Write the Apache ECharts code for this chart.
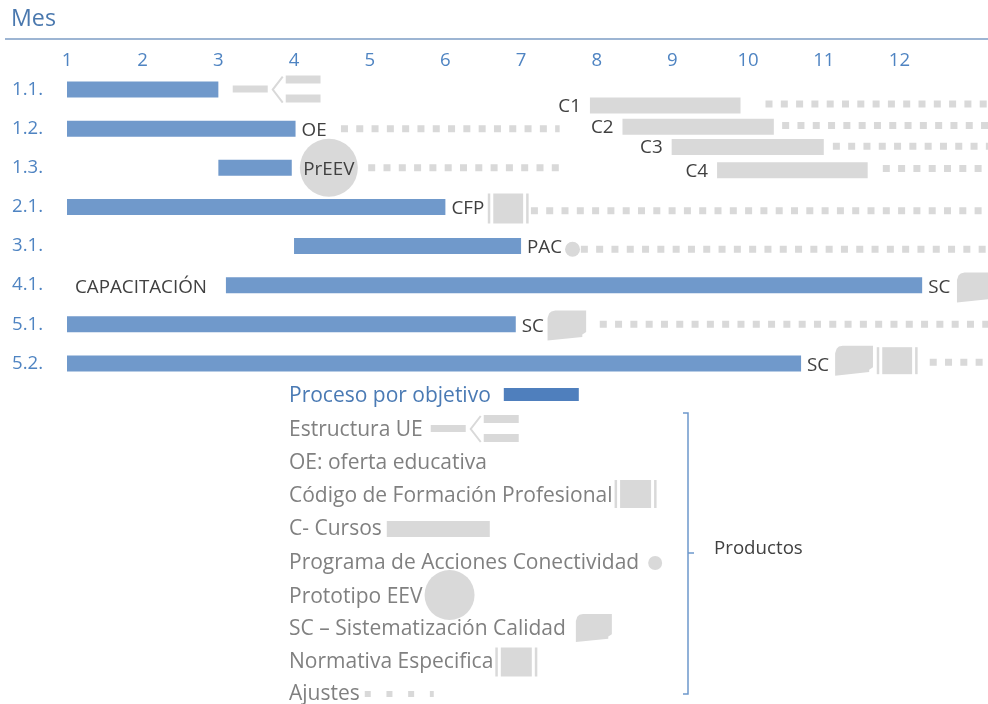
<!DOCTYPE html>
<html>
<head>
<meta charset="utf-8">
<title>Cronograma por objetivo</title>
<script src="https://cdn.jsdelivr.net/npm/echarts@6/dist/echarts.min.js"></script>
<style>
  html, body { margin: 0; padding: 0; background: #ffffff; }
  #chart { width: 988px; height: 704px; }
</style>
</head>
<body>
<div id="chart"></div>
<script>
// ---- Data -------------------------------------------------------------
// Month tick labels on the top axis
const monthLabels = ['1', '2', '3', '4', '5', '6', '7', '8', '9', '10', '11', '12'];

// Objectives (rows) and their process bars, in months
const rows = ['1.1.', '1.2.', '1.3.', '2.1.', '3.1.', '4.1.', '5.1.', '5.2.'];
const barStart = [1, 1, 3, 1, 4, 3.1, 1, 1];
const barEnd = [3, 4.02, 3.97, 6, 7, 12.3, 6.93, 10.7];
const barEndLabels = ['', 'OE', '', 'CFP', 'PAC', 'SC', 'SC', 'SC'];
const barStartLabels = ['', '', '', '', '', 'CAPACITACIÓN', '', ''];

// Products: courses C1..C4
const cursoNames = ['C1', 'C2', 'C3', 'C4'];
const cursoRow = [1.41, 1.95, 2.47, 3.06];
const cursoStart = [7.91, 8.34, 8.99, 9.59];
const cursoEnd = [9.9, 10.34, 11.0, 11.58];

// Products: adjustments (dotted runs)
const ajusteRow = [2, 3, 1.37, 1.92, 2.45, 3.02, 4.1, 5.08, 7.0, 7.97];
const ajusteStart = [4.62, 4.98, 10.23, 10.45, 11.12, 11.78, 7.13, 7.79, 8.04, 12.4];
const ajusteEnd = [7.51, 7.51, 13.3, 13.3, 13.3, 13.3, 13.3, 13.3, 13.3, 13.3];

// Products: Estructura UE
const estructuraRow = [1];
const estructuraStart = [3.19];
const estructuraEnd = [4.35];

// Products: Prototipo EEV
const prototipoRow = [3];
const prototipoAt = [4.46];
const prototipoLabel = ['PrEEV'];

// Products: Código de Formación Profesional
const cfpRow = [4.04];
const cfpStart = [6.56];
const cfpEnd = [7.1];

// Products: Programa de Acciones Conectividad
const pacRow = [5.08];
const pacAt = [7.68];

// Products: SC – Sistematización Calidad
const scRow = [6.06, 7.03, 7.93];
const scStart = [12.76, 7.35, 11.15];
const scEnd = [13.26, 7.86, 11.65];

// Products: Normativa Especifica
const normRow = [7.93];
const normStart = [11.7];
const normEnd = [12.24];

// Legend entries
const legendTitle = 'Proceso por objetivo';
const legendItems = ['Estructura UE', 'OE: oferta educativa', 'Código de Formación Profesional',
  'C- Cursos', 'Programa de Acciones Conectividad', 'Prototipo EEV',
  'SC – Sistematización Calidad', 'Normativa Especifica', 'Ajustes'];
const bracketLabel = 'Productos';

// ---- Styles -----------------------------------------------------------
const FONT_FAMILY = '"Open Sans", "Noto Sans", "Liberation Sans", sans-serif';
const BLUE_TEXT = '#4f84c2';
const BAR_BLUE = '#7099cb';
const LEGEND_BLUE = '#4f7fbd';
const GRAY = '#d9d9d9';
const DARK = '#404040';
const LEGEND_GRAY = '#808080';
const TEXT_DY = 2; // optical baseline nudge for Open Sans

// Text metrics: font sizes are chosen so that key strings keep their set widths
const measureCtx = document.createElement('canvas').getContext('2d');
function textWidth(t, size) {
  measureCtx.font = size + 'px ' + FONT_FAMILY;
  return measureCtx.measureText(t).width;
}
function fitSize(t, width) {
  return Math.round(20 * width / textWidth(t, 20) * 10) / 10;
}
const LSIZE = fitSize('Código de Formación Profesional', 323);
const MARK_SIZE = fitSize('CAPACITACIÓN', 132);
const ROW_SIZE = fitSize('1.1.', 31);
const MONTH_SIZE = ROW_SIZE;
const TITLE_SIZE = fitSize('Mes', 45);
const BRACKET_SIZE = fitSize('Productos', 89);

function txt(x, y, text, size, color, align) {
  return {
    type: 'text', x: x, y: y + TEXT_DY,
    style: {
      text: text, fill: color, font: size + 'px ' + FONT_FAMILY,
      align: align || 'left', verticalAlign: 'middle',
      textAlign: align || 'left', textVerticalAlign: 'middle'
    }
  };
}
function rect(x, y, w, h, fill) {
  return { type: 'rect', shape: { x: x, y: y, width: w, height: h }, style: { fill: fill } };
}

// Symbol shapes shared by chart and legend
function symEstructura(x0, x1, yc) {
  return [
    rect(x0, yc - 4, 35, 7, GRAY),
    { type: 'polyline', shape: { points: [[x0 + 50, yc - 13], [x0 + 40, yc], [x0 + 50, yc + 13]] },
      style: { stroke: GRAY, lineWidth: 2, fill: 'none' } },
    rect(x0 + 53, yc - 14, x1 - x0 - 53, 8, GRAY),
    rect(x0 + 53, yc + 5, x1 - x0 - 53, 8, GRAY)
  ];
}
function symFramed(x0, x1, yc, h) {
  return [
    rect(x0, yc - h / 2, 2.5, h, GRAY),
    rect(x0 + 5.5, yc - h / 2, x1 - x0 - 11, h, GRAY),
    rect(x1 - 2.5, yc - h / 2, 2.5, h, GRAY)
  ];
}
function symSC(x0, x1, yc, h) {
  const w = x1 - x0, y0 = yc - h / 2;
  const pts = [[0, 0.25], [0.04, 0.1], [0.1, 0.03], [0.2, 0], [1, 0], [1, 0.72],
    [0.9, 0.8], [0.9, 0.88], [0, 1]].map(p => [x0 + p[0] * w, y0 + p[1] * h]);
  return [{ type: 'polygon', shape: { points: pts }, style: { fill: GRAY } }];
}
function symDots(x0, x1, yc, size, gap) {
  return [{ type: 'line', shape: { x1: x0, y1: yc, x2: x1, y2: yc },
    style: { stroke: GRAY, lineWidth: size, lineDash: [size, gap], lineCap: 'butt' } }];
}
function symCircle(cx, cy, r) {
  return [{ type: 'circle', shape: { cx: cx, cy: cy, r: r }, style: { fill: GRAY } }];
}

// ---- Series -----------------------------------------------------------
function customSeries(name, data, render, z) {
  return {
    type: 'custom', name: name, xAxisIndex: 0, yAxisIndex: 1, clip: true, z: z || 2,
    data: data, silent: true,
    renderItem: function (params, api) {
      return { type: 'group', children: render(api, params.dataIndex) };
    }
  };
}

const series = [
  customSeries('Ajustes', ajusteRow.map((r, i) => [ajusteStart[i], ajusteEnd[i], r]), function (api) {
    const s = api.coord([api.value(0), api.value(2)]);
    const e = api.coord([api.value(1), api.value(2)]);
    return symDots(s[0], e[0], s[1], 7, 8.3);
  }),
  customSeries('C- Cursos', cursoRow.map((r, i) => [cursoStart[i], cursoEnd[i], r]), function (api, i) {
    const s = api.coord([api.value(0), api.value(2)]);
    const e = api.coord([api.value(1), api.value(2)]);
    return [rect(s[0], s[1] - 8, e[0] - s[0], 16, GRAY), txt(s[0] - 9, s[1] - 1, cursoNames[i], MARK_SIZE, DARK, 'right')];
  }),
  customSeries('Estructura UE', estructuraRow.map((r, i) => [estructuraStart[i], estructuraEnd[i], r]), function (api) {
    const s = api.coord([api.value(0), api.value(2)]);
    const e = api.coord([api.value(1), api.value(2)]);
    return symEstructura(s[0], e[0], s[1]);
  }),
  customSeries('Prototipo EEV', prototipoRow.map((r, i) => [prototipoAt[i], r]), function (api, i) {
    const c = api.coord([api.value(0), api.value(1)]);
    return symCircle(c[0], c[1], 29).concat([txt(c[0], c[1], prototipoLabel[i], MARK_SIZE, DARK, 'center')]);
  }),
  customSeries('Código de Formación Profesional', cfpRow.map((r, i) => [cfpStart[i], cfpEnd[i], r]), function (api) {
    const s = api.coord([api.value(0), api.value(2)]);
    const e = api.coord([api.value(1), api.value(2)]);
    return symFramed(s[0], e[0], s[1], 30);
  }),
  customSeries('Programa de Acciones Conectividad', pacRow.map((r, i) => [pacAt[i], r]), function (api) {
    const c = api.coord([api.value(0), api.value(1)]);
    return symCircle(c[0], c[1], 7.5);
  }),
  customSeries('SC – Sistematización Calidad', scRow.map((r, i) => [scStart[i], scEnd[i], r]), function (api) {
    const s = api.coord([api.value(0), api.value(2)]);
    const e = api.coord([api.value(1), api.value(2)]);
    return symSC(s[0], e[0], s[1], 30);
  }),
  customSeries('Normativa Especifica', normRow.map((r, i) => [normStart[i], normEnd[i], r]), function (api) {
    const s = api.coord([api.value(0), api.value(2)]);
    const e = api.coord([api.value(1), api.value(2)]);
    return symFramed(s[0], e[0], s[1], 27);
  }),
  customSeries('Proceso por objetivo', rows.map((r, i) => [barStart[i], barEnd[i], i + 1]), function (api, i) {
    const s = api.coord([api.value(0), api.value(2)]);
    const e = api.coord([api.value(1), api.value(2)]);
    const out = [rect(s[0], s[1] - 8, e[0] - s[0], 16, BAR_BLUE)];
    if (barEndLabels[i]) out.push(txt(e[0] + 6, e[1], barEndLabels[i], MARK_SIZE, DARK, 'left'));
    if (barStartLabels[i]) out.push(txt(s[0] - 19, s[1], barStartLabels[i], MARK_SIZE, DARK, 'right'));
    return out;
  }, 3)
];

// ---- Legend and frame (drawn as graphics) ----------------------------
const LX = 289;
const legendY = [429, 462, 495, 528, 562, 596, 628, 661, 693];
const legendGfx = [];
legendGfx.push(txt(LX, 394, legendTitle, LSIZE, '#4a7ab4', 'left'));
const tw0 = textWidth(legendTitle, LSIZE);
legendGfx.push(rect(LX + tw0 + 13, 388, 75, 13, LEGEND_BLUE));
legendItems.forEach(function (t, k) {
  const y = legendY[k];
  legendGfx.push(txt(LX, y - 1, t, LSIZE, LEGEND_GRAY, 'left'));
  const xe = LX + textWidth(t, LSIZE);
  let sym = [];
  if (k === 0) sym = symEstructura(xe + 8, xe + 96, y);
  else if (k === 2) sym = symFramed(xe + 2, xe + 44, y - 1, 28);
  else if (k === 3) sym = [rect(xe + 5, y - 7, 103, 16, GRAY)];
  else if (k === 4) sym = symCircle(xe + 16, y + 1, 7);
  else if (k === 5) sym = symCircle(xe + 27, y - 1, 25);
  else if (k === 6) sym = symSC(xe + 10, xe + 46, y, 28);
  else if (k === 7) sym = symFramed(xe + 2, xe + 44, y + 1, 29);
  else if (k === 8) sym = symDots(xe + 5, xe + 74, y + 1, 6, 15.7);
  sym.forEach(s => legendGfx.push(s));
});

const frameGfx = [
  txt(11, 17, 'Mes', TITLE_SIZE, '#4a78ae', 'left'),
  { type: 'line', shape: { x1: 5, y1: 39, x2: 988, y2: 39 }, style: { stroke: '#7c9cc4', lineWidth: 1.5 } },
  { type: 'polyline', shape: { points: [[683, 413], [688, 413], [688, 694], [683, 694]] },
    style: { stroke: '#6d98cc', lineWidth: 1.5, fill: 'none' } },
  { type: 'line', shape: { x1: 688, y1: 553, x2: 694, y2: 553 }, style: { stroke: '#6d98cc', lineWidth: 1.5 } },
  txt(714, 547, bracketLabel, BRACKET_SIZE, DARK, 'left')
];

// ---- Chart ------------------------------------------------------------
const chart = echarts.init(document.getElementById('chart'), null, { renderer: 'canvas' });
chart.setOption({
  animation: false,
  backgroundColor: '#ffffff',
  grid: { left: 67, right: 0, top: 70, height: 313, containLabel: false },
  xAxis: {
    type: 'value', position: 'top', min: 1, max: 13.17, interval: 1,
    axisLine: { show: false }, axisTick: { show: false }, splitLine: { show: false },
    axisLabel: {
      margin: 0, color: BLUE_TEXT, fontSize: MONTH_SIZE, fontFamily: FONT_FAMILY,
      showMaxLabel: false,
      formatter: function (v) { return v >= 1 && v <= 12 ? monthLabels[v - 1] : ''; }
    }
  },
  yAxis: [
    {
      type: 'category', data: rows, inverse: true,
      axisLine: { show: false }, axisTick: { show: false }, splitLine: { show: false },
      axisLabel: { align: 'left', margin: 55, padding: [4, 0, 0, 0], color: BLUE_TEXT, fontSize: ROW_SIZE, fontFamily: FONT_FAMILY }
    },
    { type: 'value', min: 0.5, max: 8.5, inverse: true, show: false }
  ],
  series: series,
  graphic: { elements: frameGfx.concat(legendGfx) }
});
</script>
</body>
</html>
